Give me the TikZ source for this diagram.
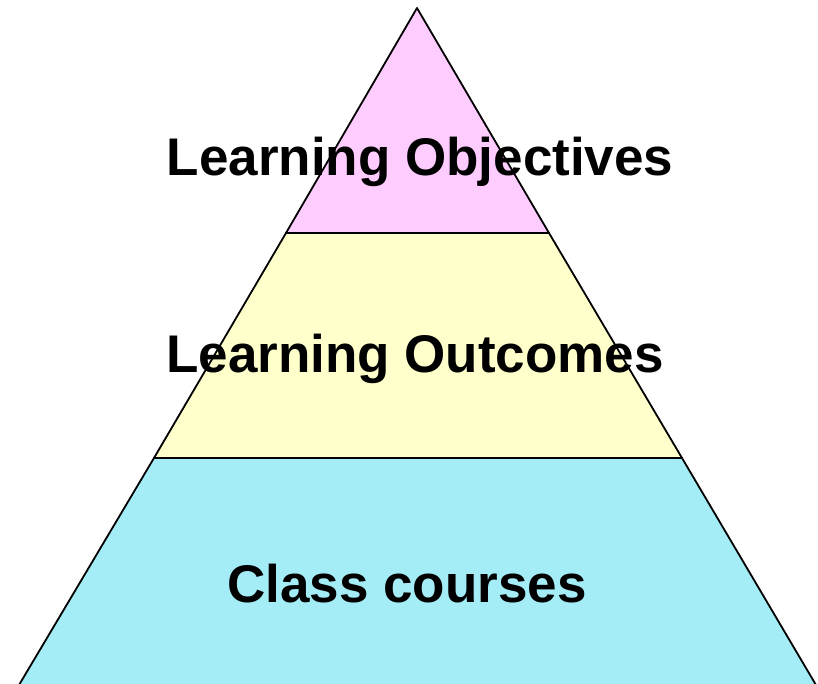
\documentclass[tikz,border=0pt]{standalone}
\usepackage{fontspec}
\setmainfont{Liberation Sans}
\definecolor{topfill}{RGB}{255,204,255}
\definecolor{midfill}{RGB}{255,255,204}
\definecolor{lowfill}{RGB}{164,237,246}
\begin{document}
\begin{tikzpicture}[x=1pt,y=-1pt,line join=round,line width=1.8pt]
    \tikzset{band/.style={draw=black},
             tier/.style={anchor=base,inner sep=0pt,font=\fontsize{53}{60}\selectfont\bfseries}}
    \useasboundingbox (0,0) rectangle (818,683);
    \coordinate (apex) at (417,8);
    % bands of the pyramid
    \draw[band,fill=lowfill] (154,458) -- (682,458) -- (816,685) -- (19,685) -- cycle;
    \draw[band,fill=midfill] (286,233) -- (549,233) -- (682,458) -- (154,458) -- cycle;
    \draw[band,fill=topfill] (apex) -- (549,233) -- (286,233) -- cycle;
    % labels
    \node[tier] (objectives) at (420,175) {Learning Objectives};
    \node[tier] (outcomes) at (415,372) {Learning Outcomes};
    \node[tier] (courses) at (407,602) {Class courses};
\end{tikzpicture}
\end{document}
